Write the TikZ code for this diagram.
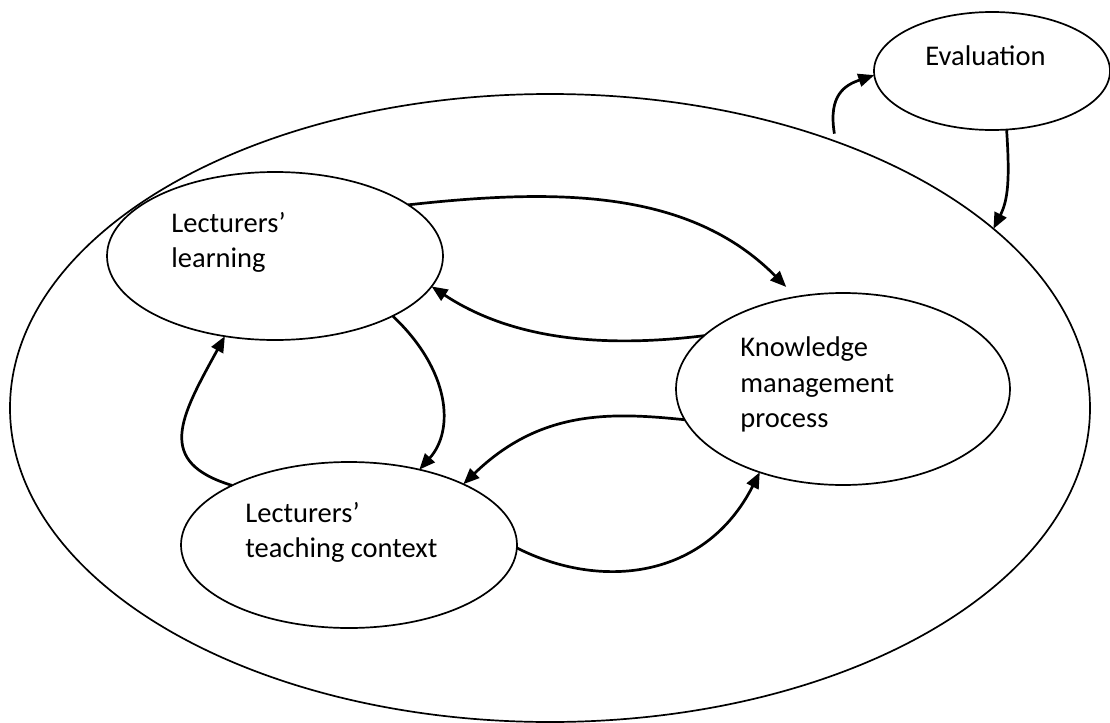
\documentclass[tikz,border=0pt]{standalone}
\usepackage{fontspec}
\setmainfont{Carlito}
\usetikzlibrary{shapes.geometric,arrows.meta}
\begin{document}
\begin{tikzpicture}[x=0.5pt,y=-0.5pt,
  oval/.style={draw, ellipse, line width=0.85pt, inner sep=0pt, outer sep=0pt},
  lbl/.style={anchor=base west, inner sep=0pt, font=\fontsize{14.25pt}{17pt}\selectfont},
  flow/.style={line width=1.35pt, -{Triangle[length=8pt,width=6.5pt]}}]
\useasboundingbox (0,0) rectangle (1110,723);
% ellipses
\node[oval, minimum width=540pt, minimum height=314pt] (outer) at (550,408) {};
\node[oval, minimum width=118pt, minimum height=59pt] (eval) at (992,71) {};
\node[oval, minimum width=168pt, minimum height=84pt] (learn) at (275,256) {};
\node[oval, minimum width=167pt, minimum height=96pt] (km) at (843,389) {};
\node[oval, minimum width=168pt, minimum height=83pt] (teach) at (349,545) {};
% texts
\node[lbl] (evalT) at (925,65) {Evaluation};
\node[lbl] (learnT1) at (171,232) {Lecturers’};
\node[lbl] (learnT2) at (171,267) {learning};
\node[lbl] (kmT1) at (740,356) {Knowledge};
\node[lbl] (kmT2) at (740,392) {management};
\node[lbl] (kmT3) at (740,427) {process};
\node[lbl] (teachT1) at (245,522) {Lecturers’};
\node[lbl] (teachT2) at (245,557) {teaching context};
% connectors
\draw[flow, shorten >=7pt] (learn.21) .. controls (560,188) and (690,190) .. (km.117);
\draw[flow] (km.159) .. controls (620,346) and (520,345) .. (learn.349.5);
\draw[flow] (learn.333.8) .. controls (450,370) and (455,430) .. (teach.47);
\draw[flow] (teach.153.6) .. controls (155,462) and (180,418) .. (learn.238.8);
\draw[flow] (km.191.4) .. controls (610,412) and (540,410) .. (teach.28.5);
\draw[flow] (teach.359) .. controls (600,590) and (705,580) .. (km.225);
\draw[flow, shorten <=4pt] (outer.43.5) .. controls (828,95) and (845,85) .. (eval.182.4);
\draw[flow] (eval.284.7) .. controls (1010,180) and (1008,200) .. (outer.22.4);
\end{tikzpicture}
\end{document}
